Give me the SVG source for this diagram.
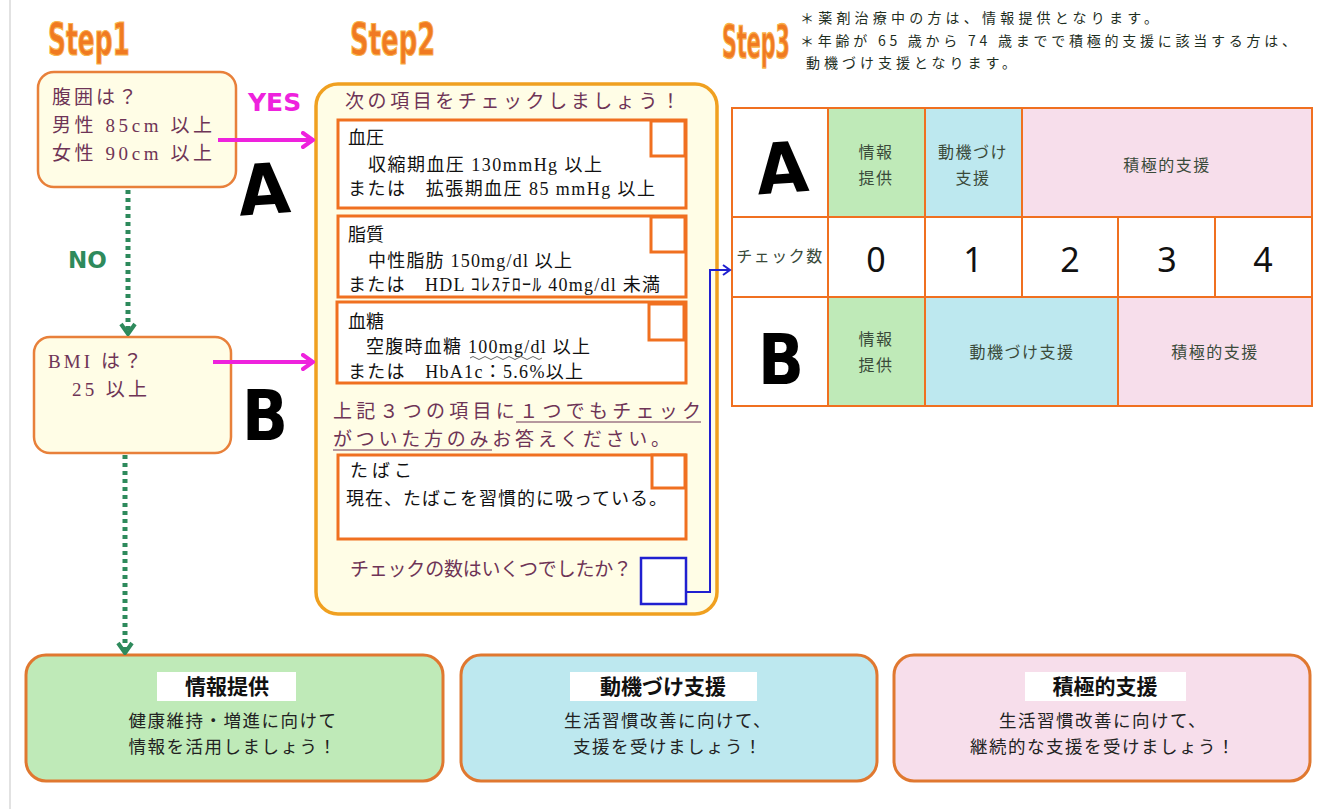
<svg xmlns="http://www.w3.org/2000/svg" width="1325" height="809" viewBox="0 0 1325 809">
<defs>
<style>
.step{font-family:"DejaVu Sans","Noto Sans",sans-serif;font-weight:bold;font-size:44px;fill:#f07a22;stroke:#f9b24a;stroke-width:1.2}
.jp{font-family:"Liberation Serif","Noto Sans CJK JP",serif;font-size:19px;fill:#6e3456}
.jb{font-family:"Liberation Serif","Noto Sans CJK JP",serif;font-size:18px;fill:#111}
.big{font-family:"DejaVu Sans","Noto Sans",sans-serif;font-weight:bold;fill:#000}
.ybox{fill:#fffde6;stroke:#e8803a;stroke-width:2.5}
.ibox{fill:#fff;stroke:#f07020;stroke-width:3}
.chk{fill:#fff;stroke:#f07020;stroke-width:3}
.cell{stroke:#f07020;stroke-width:2}
.tt{font-family:"Noto Sans CJK JP",sans-serif;font-size:16px;fill:#3a4a3a;text-anchor:middle;letter-spacing:1.5px}
.num{font-family:"Noto Sans","DejaVu Sans",sans-serif;font-size:34px;fill:#111;text-anchor:middle}
.note{font-family:"Noto Sans CJK JP",sans-serif;font-size:14px;fill:#1e2e1e}
.bbox{stroke:#e07830;stroke-width:3}
.btitle{font-family:"Noto Sans CJK JP",sans-serif;font-size:21px;font-weight:bold;fill:#111;text-anchor:middle}
.btext{font-family:"Noto Sans CJK JP",sans-serif;font-size:17.5px;fill:#222;text-anchor:middle;letter-spacing:1.5px}
.green{fill:#bfeab8}
.blue{fill:#bde8ef}
.pink{fill:#f7deeb}
</style>
<marker id="mg" markerWidth="14" markerHeight="18" refX="12" refY="9" orient="auto" markerUnits="userSpaceOnUse">
<path d="M2,2 L12,9 L2,16" fill="none" stroke="#ee22dd" stroke-width="4" stroke-linecap="round"/>
</marker>
<marker id="gr" markerWidth="18" markerHeight="14" refX="9" refY="12" orient="0" markerUnits="userSpaceOnUse">
<path d="M2,2 L9,12 L16,2" fill="none" stroke="#2e8a5c" stroke-width="4"/>
</marker>
<marker id="bl" markerWidth="12" markerHeight="12" refX="10" refY="6" orient="auto" markerUnits="userSpaceOnUse">
<path d="M3,1 L10,6 L3,11" fill="none" stroke="#2020d0" stroke-width="2"/>
</marker>
</defs>
<rect width="1325" height="809" fill="#fff"/>
<line x1="10" y1="0" x2="10" y2="809" stroke="#d8d8d8" stroke-width="1.5"/>

<g id="titles">
<text class="step" transform="translate(48,55) scale(0.566,1)" x="0" y="0">Step1</text>
<text class="step" transform="translate(350,55) scale(0.59,1)" x="0" y="0">Step2</text>
<text class="step" transform="translate(722,58) scale(0.47,1.05)" x="0" y="0">Step3</text>
</g>

<g id="notes">
<text class="note" x="800" y="23" textLength="358" lengthAdjust="spacing">＊薬剤治療中の方は、情報提供となります。</text>
<text class="note" x="800" y="46" textLength="496" lengthAdjust="spacing">＊年齢が 65 歳から 74 歳までで積極的支援に該当する方は、</text>
<text class="note" x="806" y="68" textLength="210" lengthAdjust="spacing">動機づけ支援となります。</text>
</g>

<g id="node-waist">
<rect class="ybox" x="38" y="72" width="198" height="115" rx="16"/>
<text class="jp" x="52" y="104" font-size="20" textLength="85" lengthAdjust="spacing">腹囲は？</text>
<text class="jp" x="52" y="132" font-size="20" textLength="160" lengthAdjust="spacing">男性 85cm 以上</text>
<text class="jp" x="52" y="160" font-size="20" textLength="160" lengthAdjust="spacing">女性 90cm 以上</text>
</g>

<g id="node-bmi">
<rect class="ybox" x="34" y="337" width="197" height="116" rx="16"/>
<text class="jp" x="48" y="368" font-size="20" textLength="94" lengthAdjust="spacing">BMI は？</text>
<text class="jp" x="72" y="396" font-size="20" textLength="75" lengthAdjust="spacing">25 以上</text>
</g>

<g id="labels">
<text x="248" y="111" font-family="DejaVu Sans,sans-serif" font-weight="bold" font-size="25" fill="#ee22dd">YES</text>
<text x="68" y="268" font-family="DejaVu Sans,sans-serif" font-weight="bold" font-size="23" fill="#2e8a5c">NO</text>
<text class="big" x="238" y="214" font-size="70" textLength="52" lengthAdjust="spacingAndGlyphs" transform="rotate(-4 265 190)">A</text>
<text class="big" x="242" y="440" font-size="70" textLength="46" lengthAdjust="spacingAndGlyphs">B</text>
</g>

<g id="node-step2">
<rect x="316" y="84" width="401" height="530" rx="22" fill="#fffde6" stroke="#f0a020" stroke-width="3.5"/>
<text class="jp" x="345" y="108" font-size="19" textLength="335" lengthAdjust="spacing">次の項目をチェックしましょう！</text>

<rect class="ibox" x="338" y="120" width="348" height="88"/>
<rect class="chk" x="651" y="121" width="34" height="35"/>
<text class="jb" x="348" y="144" font-size="22">血圧</text>
<text class="jb" x="368" y="171" textLength="234" lengthAdjust="spacing">収縮期血圧 130mmHg 以上</text>
<text class="jb" x="348" y="195" textLength="307" lengthAdjust="spacing">または　拡張期血圧 85 mmHg 以上</text>

<rect class="ibox" x="338" y="216" width="348" height="81"/>
<rect class="chk" x="651" y="217" width="34" height="35"/>
<text class="jb" x="348" y="241" font-size="22">脂質</text>
<text class="jb" x="368" y="267" textLength="204" lengthAdjust="spacing">中性脂肪 150mg/dl 以上</text>
<text class="jb" x="348" y="291" textLength="312" lengthAdjust="spacing">または　HDL ｺﾚｽﾃﾛｰﾙ 40mg/dl 未満</text>

<rect class="ibox" x="337" y="302" width="349" height="81"/>
<rect class="chk" x="649" y="304" width="35" height="36"/>
<text class="jb" x="348" y="328" font-size="22">血糖</text>
<text class="jb" x="366" y="353" textLength="224" lengthAdjust="spacing">空腹時血糖 100mg/dl 以上</text>
<path d="M470,358 q3,-3 6,0 t6,0 t6,0 t6,0 t6,0 t6,0 t6,0 t6,0 t6,0 t6,0 t6,0 t6,0" fill="none" stroke="#666" stroke-width="1"/>
<text class="jb" x="348" y="378" textLength="235" lengthAdjust="spacing">または　HbA1c：5.6%以上</text>

<text class="jp" x="333" y="418" font-size="20" textLength="368" lengthAdjust="spacing">上記３つの項目に１つでもチェック</text>
<line x1="516" y1="422" x2="701" y2="422" stroke="#6e3456" stroke-width="1.2"/>
<text class="jp" x="333" y="446" font-size="20" textLength="337" lengthAdjust="spacing">がついた方のみお答えください。</text>
<line x1="333" y1="450" x2="492" y2="450" stroke="#6e3456" stroke-width="1.2"/>

<rect class="ibox" x="338" y="455" width="348" height="84"/>
<rect class="chk" x="652" y="455" width="33" height="33"/>
<text class="jb" x="350" y="477" font-size="20" textLength="62" lengthAdjust="spacing">たばこ</text>
<text class="jb" x="346" y="505" textLength="321" lengthAdjust="spacing">現在、たばこを習慣的に吸っている。</text>

<text class="jp" x="350" y="576" font-size="16" textLength="282" lengthAdjust="spacing">チェックの数はいくつでしたか？</text>
<rect x="641" y="558" width="45" height="46" fill="#fff" stroke="#2020d0" stroke-width="2.5"/>
</g>

<g id="table">
<rect x="732" y="108" width="580" height="298" fill="#fff"/>
<rect class="green" x="828" y="108" width="97" height="109"/>
<rect class="blue" x="925" y="108" width="97" height="109"/>
<rect class="pink" x="1022" y="108" width="290" height="109"/>
<rect class="green" x="828" y="297" width="97" height="109"/>
<rect class="blue" x="925" y="297" width="193" height="109"/>
<rect class="pink" x="1118" y="297" width="194" height="109"/>
<g fill="none" class="cell">
<rect x="732" y="108" width="580" height="298"/>
<line x1="732" y1="217" x2="1312" y2="217"/>
<line x1="732" y1="297" x2="1312" y2="297"/>
<line x1="828" y1="108" x2="828" y2="406"/>
<line x1="925" y1="108" x2="925" y2="406"/>
<line x1="1022" y1="108" x2="1022" y2="297"/>
<line x1="1118" y1="217" x2="1118" y2="406"/>
<line x1="1215" y1="217" x2="1215" y2="297"/>
</g>
<text class="big" x="756" y="193" font-size="70" textLength="52" lengthAdjust="spacingAndGlyphs" transform="rotate(-4 780 165)">A</text>
<text class="big" x="758" y="384" font-size="70" textLength="46" lengthAdjust="spacingAndGlyphs">B</text>
<text class="tt" x="876" y="158">情報</text>
<text class="tt" x="876" y="184">提供</text>
<text class="tt" x="973" y="158">動機づけ</text>
<text class="tt" x="973" y="184">支援</text>
<text class="tt" x="1167" y="171">積極的支援</text>
<text class="tt" x="780" y="262" font-size="12">チェック数</text>
<text class="num" x="876" y="272">0</text>
<text class="num" x="973" y="272">1</text>
<text class="num" x="1070" y="272">2</text>
<text class="num" x="1167" y="272">3</text>
<text class="num" x="1263" y="272">4</text>
<text class="tt" x="876" y="345">情報</text>
<text class="tt" x="876" y="371">提供</text>
<text class="tt" x="1022" y="358">動機づけ支援</text>
<text class="tt" x="1215" y="358">積極的支援</text>
</g>

<g id="node-info">
<rect class="bbox green" x="26" y="655" width="417" height="126" rx="20"/>
<rect x="157" y="672" width="139" height="29" fill="#fff"/>
<text class="btitle" x="227" y="694">情報提供</text>
<text class="btext" x="233" y="727">健康維持・増進に向けて</text>
<text class="btext" x="233" y="753">情報を活用しましょう！</text>
</g>

<g id="node-motivation">
<rect class="bbox blue" x="461" y="655" width="416" height="126" rx="20"/>
<rect x="570" y="672" width="187" height="29" fill="#fff"/>
<text class="btitle" x="663" y="694">動機づけ支援</text>
<text class="btext" x="668" y="727">生活習慣改善に向けて、</text>
<text class="btext" x="668" y="753">支援を受けましょう！</text>
</g>

<g id="node-active">
<rect class="bbox pink" x="894" y="655" width="416" height="126" rx="20"/>
<rect x="1025" y="672" width="161" height="29" fill="#fff"/>
<text class="btitle" x="1105" y="694">積極的支援</text>
<text class="btext" x="1103" y="727">生活習慣改善に向けて、</text>
<text class="btext" x="1103" y="753">継続的な支援を受けましょう！</text>
</g>

<g id="connectors">
<line x1="218" y1="140" x2="313" y2="140" stroke="#ee22dd" stroke-width="4" marker-end="url(#mg)"/>
<line x1="213" y1="362" x2="313" y2="362" stroke="#ee22dd" stroke-width="4" marker-end="url(#mg)"/>
<line x1="128" y1="190" x2="128" y2="334" stroke="#2e8a5c" stroke-width="5" stroke-dasharray="4,4" marker-end="url(#gr)"/>
<line x1="125" y1="455" x2="125" y2="653" stroke="#2e8a5c" stroke-width="5" stroke-dasharray="4,4" marker-end="url(#gr)"/>
<polyline points="686,592 710,592 710,270 730,270" fill="none" stroke="#2020d0" stroke-width="2" marker-end="url(#bl)"/>
</g>
</svg>
